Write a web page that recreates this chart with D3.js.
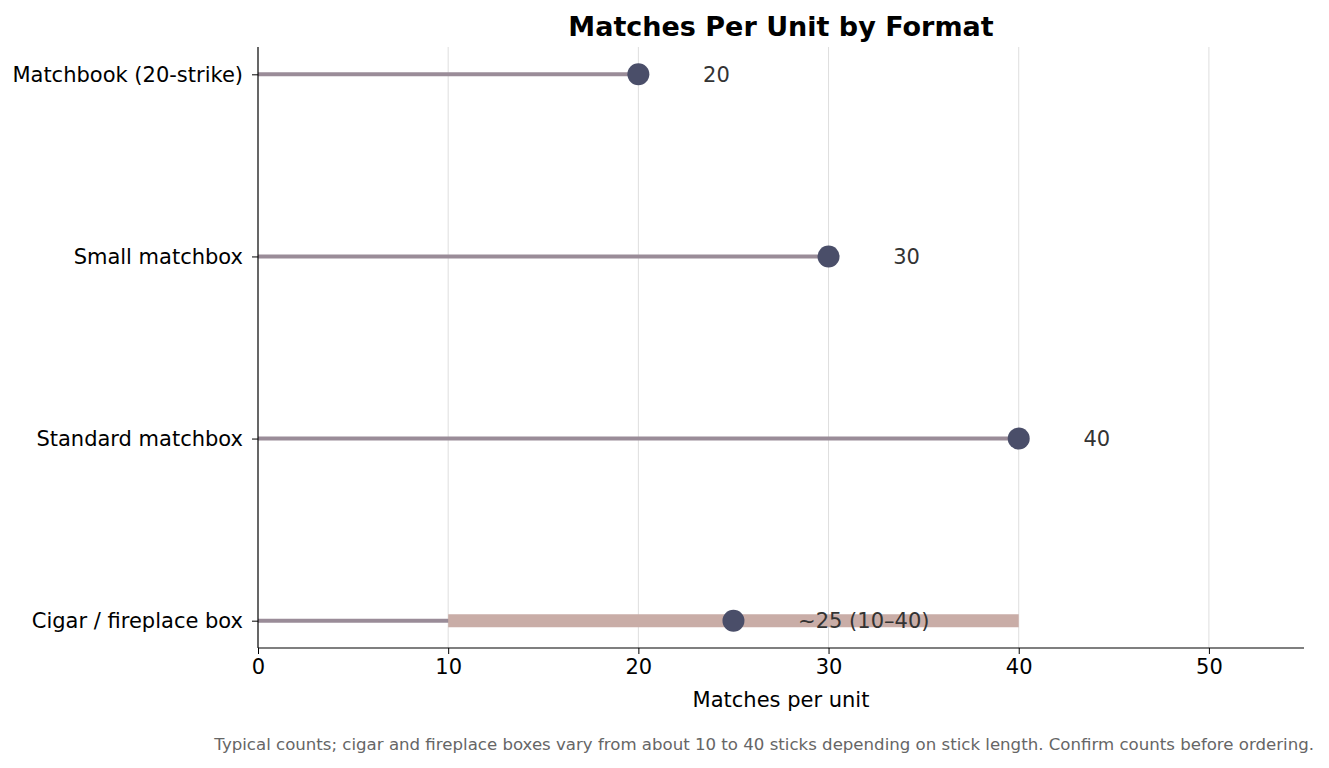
<!DOCTYPE html>
<html><head><meta charset="utf-8">
<script src="https://cdn.jsdelivr.net/npm/d3@7/dist/d3.min.js"></script>
<style>body{margin:0;background:#fff;} text{font-family:"DejaVu Sans",sans-serif;}</style>
</head><body><svg id="c" width="1329" height="768"></svg>
<script>
const categories = ["Matchbook (20-strike)", "Small matchbox", "Standard matchbox", "Cigar / fireplace box"];
const values = [20, 30, 40, 25];
const labels = ["20", "30", "40", "~25 (10–40)"];
const rangeLow = [null, null, null, 10];
const rangeHigh = [null, null, null, 40];
const xTicks = [0, 10, 20, 30, 40, 50];

const svg = d3.select("#c");
const L = 258, R = 1304, T = 47, B = 648;
const x = d3.scaleLinear().domain([0, 55]).range([L, R]);
const y = d3.scaleLinear().domain([-0.15, 3.15]).range([T, B]);

// grid
svg.append("g").selectAll("line").data(xTicks.filter(d => d > 0)).join("line")
  .attr("x1", d => x(d)).attr("x2", d => x(d)).attr("y1", T).attr("y2", B)
  .attr("stroke", "#dedede").attr("stroke-width", 1);

const data = categories.map((c, i) => ({c, i, v: values[i], lab: labels[i], lo: rangeLow[i], hi: rangeHigh[i]}));

// stems
svg.append("g").selectAll("line").data(data).join("line")
  .attr("x1", x(0)).attr("x2", d => x(d.v)).attr("y1", d => y(d.i)).attr("y2", d => y(d.i))
  .attr("stroke", "#9a8c98").attr("stroke-width", 4);

// range bands
svg.append("g").selectAll("line").data(data.filter(d => d.lo != null)).join("line")
  .attr("x1", d => x(d.lo)).attr("x2", d => x(d.hi)).attr("y1", d => y(d.i)).attr("y2", d => y(d.i))
  .attr("stroke", "#c9ada7").attr("stroke-width", 13);

// dots
svg.append("g").selectAll("circle").data(data).join("circle")
  .attr("cx", d => x(d.v)).attr("cy", d => y(d.i)).attr("r", 11).attr("fill", "#4a4e69");

// value labels
svg.append("g").selectAll("text").data(data).join("text")
  .attr("x", d => x(d.v + 3.4)).attr("y", d => y(d.i)).attr("dy", "0.35em")
  .style("font-size", "21px").attr("fill", "#333").text(d => d.lab);

// axes
const xAxis = d3.axisBottom(x).tickValues(xTicks).tickSize(6).tickPadding(5);
const gx = svg.append("g").attr("transform", `translate(0,${B})`).call(xAxis);
gx.select(".domain").attr("d", `M${L},0H${R}`).attr("stroke", "#000").attr("stroke-width", 1.2);
gx.selectAll("text").style("font-size", "21px").attr("fill", "#000");

const gy = svg.append("g").attr("transform", `translate(${L},0)`)
  .call(d3.axisLeft(y).tickValues([0,1,2,3]).tickFormat(i => categories[i]).tickSize(6).tickPadding(9));
gy.select(".domain").attr("d", `M0,${T}V${B}`).attr("stroke", "#000").attr("stroke-width", 1.2);
gy.selectAll("text").style("font-size", "21px").attr("fill", "#000");

// title and labels
svg.append("text").attr("x", (L + R) / 2).attr("y", 36).attr("text-anchor", "middle")
  .style("font-size", "27px").attr("font-weight", "bold").text("Matches Per Unit by Format");
svg.append("text").attr("x", (L + R) / 2).attr("y", 707).attr("text-anchor", "middle")
  .style("font-size", "21px").text("Matches per unit");
svg.append("text").attr("x", 1314).attr("y", 750).attr("text-anchor", "end")
  .style("font-size", "16.6px").attr("fill", "#666")
  .text("Typical counts; cigar and fireplace boxes vary from about 10 to 40 sticks depending on stick length. Confirm counts before ordering.");
</script></body></html>
